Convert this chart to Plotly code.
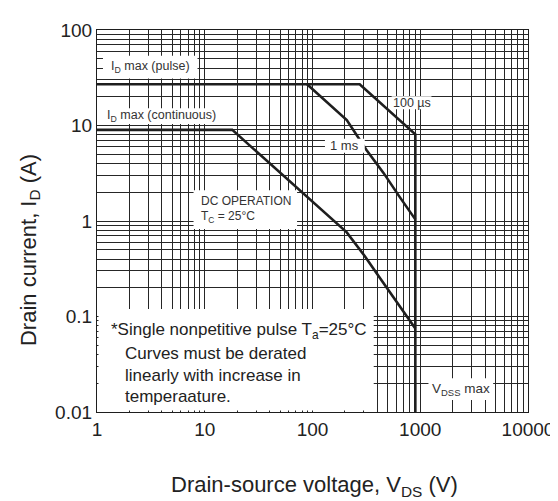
import plotly.graph_objects as go

# ---- data ----
x_ticks = [1, 10, 100, 1000, 10000]
x_tick_text = ["1", "10", "100", "1000", "10000"]
y_ticks = [0.01, 0.1, 1, 10, 100]
y_tick_text = ["0.01", "0.1", "1", "10", "100"]

# 100 us curve (includes I_D max pulse line and V_DSS max line)
us100_v = [1, 274, 900, 900]
us100_i = [27, 27, 8.1, 0.01]

# 1 ms curve
ms1_v = [89, 208, 318, 456, 641, 900]
ms1_i = [27, 11.4, 5.5, 3.19, 1.8, 1.04]

# DC operation (includes I_D max continuous line)
dc_v = [1, 18, 208, 305, 410, 745, 900]
dc_i = [9, 9, 0.76, 0.43, 0.265, 0.10, 0.075]

# ---- layout geometry ----
W, H = 558, 501
L, R, T, B = 89, 36, 18, 97
PW, PH = W - L - R, H - T - B


def X(px):
    return (px - L) / PW


def Y(py):
    return (H - B - py) / PH


FONT = "Liberation Sans, Arial, sans-serif"
INK = "#1e1e1e"
GRID = "#262626"

minor_x = [m * 10 ** d for d in range(0, 4) for m in range(2, 10)]
minor_y = [m * 10 ** d for d in range(-2, 2) for m in range(2, 10)]

fig = go.Figure()
line_style = dict(color=INK, width=2.6)
for xs, ys in [(us100_v, us100_i), (ms1_v, ms1_i), (dc_v, dc_i)]:
    fig.add_trace(go.Scatter(x=xs, y=ys, mode="lines", line=line_style,
                             showlegend=False, hoverinfo="skip"))

# white label boxes that blank out the grid
boxes = [
    (95, 44, 190, 67),     # I_D max (pulse)
    (95, 97, 210, 113),    # I_D max (continuous)
    (385, 85, 425, 98),    # 100 us
    (318, 128, 358, 142),  # 1 ms
    (186, 180, 290, 219),  # DC operation
    (90.5, 300, 367, 402.5),  # note block
    (422, 370, 487, 392),  # V_DSS max
]
shapes = []
for x0, y0, x1, y1 in boxes:
    shapes.append(dict(type="rect", xref="paper", yref="paper",
                       x0=X(x0), x1=X(x1), y0=Y(y1), y1=Y(y0),
                       fillcolor="white", line=dict(width=0), layer="above"))

ann = []


def text(px, py, s, size, xanchor="center", color="#333333", **kw):
    ann.append(dict(x=X(px), y=Y(py), xref="paper", yref="paper", text=s,
                    showarrow=False, xanchor=xanchor, yanchor="middle",
                    font=dict(family=FONT, size=size, color=color), **kw))


text(143, 55, "I<sub>D</sub> max (pulse)", 12.5)
text(154, 105, "I<sub>D</sub> max (continuous)", 12.5)
text(405, 91.5, "100 µs", 12.5)
text(338, 135, "1 ms", 13)
text(191, 190.5, "DC OPERATION", 12, xanchor="left")
text(191, 207, "T<sub>C</sub> = 25°C", 12, xanchor="left")
text(455, 381, "V<sub>DSS</sub> max", 13.5)
text(101, 322, "*Single nonpetitive pulse T<sub>a</sub>=25°C", 17, xanchor="left", color="#222222")
text(115, 345, "Curves must be derated", 17, xanchor="left", color="#222222")
text(115, 367, "linearly with increase in", 17, xanchor="left", color="#222222")
text(115, 388, "temperaature.", 17, xanchor="left", color="#222222")

# axis titles
text(21, 240, "Drain current, I<sub>D</sub> (A)", 22, textangle=-90, color="#222222")
text(308, 479, "Drain-source voltage, V<sub>DS</sub> (V)", 22, color="#222222")

axis_common = dict(
    type="log", showgrid=True, gridcolor=GRID, gridwidth=1,
    showline=True, linecolor=INK, linewidth=1.2, mirror=True,
    ticks="", zeroline=False,
    tickfont=dict(family=FONT, size=19, color="#222222"),
)

fig.update_layout(
    width=W, height=H,
    margin=dict(l=L, r=R, t=T, b=B),
    paper_bgcolor="white", plot_bgcolor="white",
    xaxis=dict(range=[0, 4], tickmode="array", tickvals=x_ticks, ticktext=x_tick_text,
               minor=dict(tickvals=minor_x, showgrid=True, gridcolor=GRID, gridwidth=1, ticks=""),
               **axis_common),
    yaxis=dict(range=[-2, 2], tickmode="array", tickvals=y_ticks, ticktext=y_tick_text,
               minor=dict(tickvals=minor_y, showgrid=True, gridcolor=GRID, gridwidth=1, ticks=""),
               **axis_common),
    shapes=shapes,
    annotations=ann,
)

fig.write_html("out.html")
